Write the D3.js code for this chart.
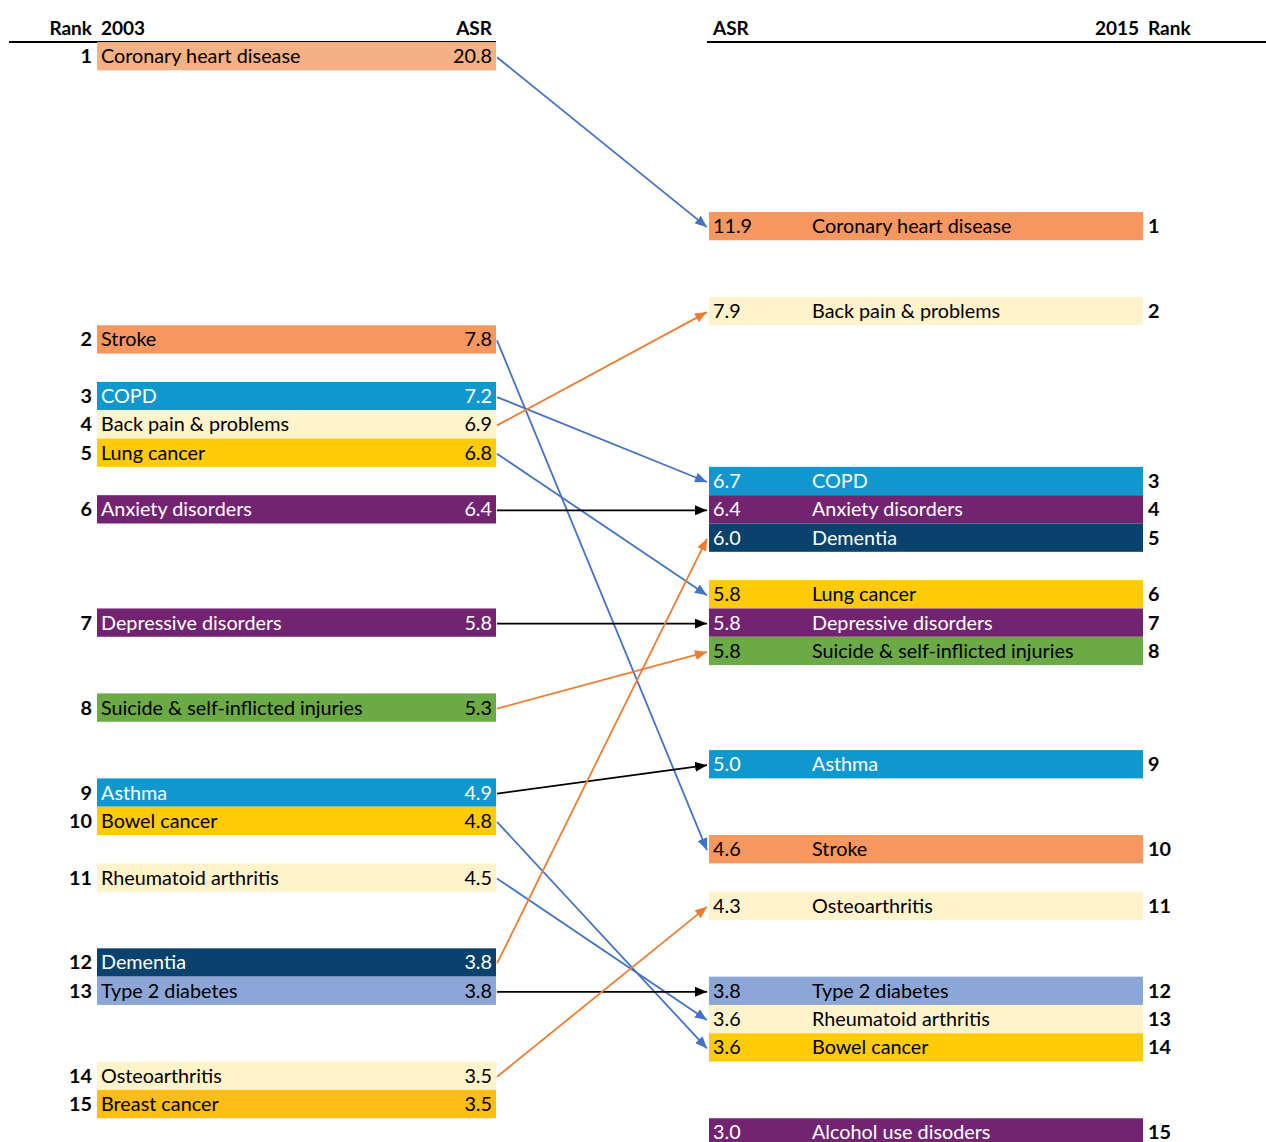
<!DOCTYPE html>
<html>
<head>
<meta charset="utf-8">
<script src="https://cdn.jsdelivr.net/npm/d3@7"></script>
<style>
  body { margin: 0; background: #fff; }
  svg { font-family: Lato, 'Open Sans', sans-serif; }
</style>
</head>
<body>
<svg id="chart" width="1266" height="1142"></svg>
<script>
// 2003 ranking
const causes2003 = ['Coronary heart disease', 'Stroke', 'COPD', 'Back pain & problems', 'Lung cancer',
  'Anxiety disorders', 'Depressive disorders', 'Suicide & self-inflicted injuries', 'Asthma', 'Bowel cancer',
  'Rheumatoid arthritis', 'Dementia', 'Type 2 diabetes', 'Osteoarthritis', 'Breast cancer'];
const asr2003 = [20.8, 7.8, 7.2, 6.9, 6.8, 6.4, 5.8, 5.3, 4.9, 4.8, 4.5, 3.8, 3.8, 3.5, 3.5];
const group2003 = ['Cardiovascular light', 'Cardiovascular', 'Respiratory', 'Musculoskeletal', 'Cancer',
  'Mental', 'Mental', 'Injuries', 'Respiratory', 'Cancer',
  'Musculoskeletal', 'Neurological', 'Endocrine', 'Musculoskeletal', 'Breast cancer'];

// 2015 ranking
const causes2015 = ['Coronary heart disease', 'Back pain & problems', 'COPD', 'Anxiety disorders', 'Dementia',
  'Lung cancer', 'Depressive disorders', 'Suicide & self-inflicted injuries', 'Asthma', 'Stroke',
  'Osteoarthritis', 'Type 2 diabetes', 'Rheumatoid arthritis', 'Bowel cancer', 'Alcohol use disoders'];
const asr2015 = [11.9, 7.9, 6.7, 6.4, 6.0, 5.8, 5.8, 5.8, 5.0, 4.6, 4.3, 3.8, 3.6, 3.6, 3.0];
const group2015 = ['Cardiovascular', 'Musculoskeletal', 'Respiratory', 'Mental', 'Neurological',
  'Cancer', 'Mental', 'Injuries', 'Respiratory', 'Cardiovascular',
  'Musculoskeletal', 'Endocrine', 'Musculoskeletal', 'Cancer', 'Mental'];

const groups = ['Cardiovascular light', 'Cardiovascular', 'Respiratory', 'Musculoskeletal', 'Cancer',
  'Breast cancer', 'Mental', 'Injuries', 'Neurological', 'Endocrine'];
const groupColors = ['#F4B183', '#F6975F', '#1097CE', '#FFF3CC', '#FFCB08',
  '#FCBD14', '#722471', '#6CAA45', '#08426D', '#8CA7D7'];
const darkGroups = ['Respiratory', 'Mental', 'Neurological'];

const svg = d3.select('#chart');
const color = d3.scaleOrdinal().domain(groups).range(groupColors);

// the ASR axis of the sheet is not linear: each value sits on a row of the grid
const asrKnots = [20.8, 11.9, 7.9, 7.8, 7.2, 6.9, 6.8, 6.7, 6.4, 6.0, 5.8, 5.3, 5.0, 4.9, 4.8, 4.6, 4.5, 4.3, 3.8, 3.6, 3.5, 3.0];
const rowKnots = [0, 6, 9, 10, 12, 13, 14, 15, 16, 17, 20, 23, 25, 26, 27, 28, 29, 30, 33, 35, 37, 38];
const asrToRow = d3.scaleLinear().domain(asrKnots).range(rowKnots);
const rowToY = d3.scaleLinear().domain([0, 38]).range([56.2, 1132.4]);
const rowH = 28.3;

const buildColumn = (names, values, grp) => {
  const items = names.map((n, i) => ({ name: n, asr: values[i], group: grp[i], rank: i + 1 }));
  const ties = d3.group(items, d => d.asr);
  items.forEach((d) => {
    const same = ties.get(d.asr);
    const off = same.indexOf(d) - Math.floor(same.length / 2);
    d.y = rowToY(asrToRow(d.asr) + off);
  });
  return items;
};

const left = buildColumn(causes2003, asr2003, group2003);
const right = buildColumn(causes2015, asr2015, group2015);

const L = { x0: 97, x1: 496 };
const R = { x0: 709, x1: 1143 };
const textFill = d => darkGroups.includes(d.group) ? '#fff' : '#000';
const fs = 19.8;

// headers
const head = svg.append('g').attr('font-weight', 'bold').attr('font-size', 19);
head.append('text').attr('x', 92).attr('y', 35).attr('text-anchor', 'end').text('Rank');
head.append('text').attr('x', 101).attr('y', 35).text('2003');
head.append('text').attr('x', 492).attr('y', 35).attr('text-anchor', 'end').text('ASR');
head.append('text').attr('x', 713).attr('y', 35).text('ASR');
head.append('text').attr('x', 1139).attr('y', 35).attr('text-anchor', 'end').text('2015');
head.append('text').attr('x', 1148).attr('y', 35).text('Rank');
svg.append('line').attr('x1', 9).attr('x2', 496).attr('y1', 42).attr('y2', 42).attr('stroke', '#000').attr('stroke-width', 2);
svg.append('line').attr('x1', 707).attr('x2', 1266).attr('y1', 42).attr('y2', 42).attr('stroke', '#000').attr('stroke-width', 2);

// left column
const lg = svg.append('g').attr('font-size', fs);
const lrow = lg.selectAll('.lrow').data(left).enter().append('g').attr('class', 'lrow');
lrow.append('rect')
  .attr('x', L.x0).attr('width', L.x1 - L.x0)
  .attr('y', d => d.y - rowH / 2).attr('height', rowH)
  .attr('fill', d => color(d.group));
lrow.append('text').attr('x', 92).attr('y', d => d.y + 7)
  .attr('text-anchor', 'end').attr('font-weight', 'bold').text(d => d.rank);
lrow.append('text').attr('x', 101).attr('y', d => d.y + 7).attr('fill', textFill).text(d => d.name);
lrow.append('text').attr('x', 492).attr('y', d => d.y + 7).attr('text-anchor', 'end')
  .attr('fill', textFill).text(d => d.asr.toFixed(1));

// right column
const rg = svg.append('g').attr('font-size', fs);
const rrow = rg.selectAll('.rrow').data(right).enter().append('g').attr('class', 'rrow');
rrow.append('rect')
  .attr('x', R.x0).attr('width', R.x1 - R.x0)
  .attr('y', d => d.y - rowH / 2).attr('height', rowH)
  .attr('fill', d => color(d.group));
rrow.append('text').attr('x', 713).attr('y', d => d.y + 7).attr('fill', textFill).text(d => d.asr.toFixed(1));
rrow.append('text').attr('x', 812).attr('y', d => d.y + 7).attr('fill', textFill).text(d => d.name);
rrow.append('text').attr('x', 1148).attr('y', d => d.y + 7).attr('font-weight', 'bold').text(d => d.rank);

// arrows: orange = ASR up, blue = ASR down, black = about the same
const arrowColors = { up: '#ED7D31', down: '#4472C4', flat: '#000000' };
const defs = svg.append('defs');
Object.keys(arrowColors).forEach((k) => {
  defs.append('marker')
    .attr('id', 'arrow-' + k)
    .attr('markerUnits', 'userSpaceOnUse')
    .attr('viewBox', '0 0 12 10')
    .attr('refX', 12).attr('refY', 5)
    .attr('markerWidth', 12).attr('markerHeight', 10)
    .attr('orient', 'auto')
    .append('path').attr('d', 'M0,0 L12,5 L0,10 Z').attr('fill', arrowColors[k]);
});

const links = left.map((d) => {
  const target = right.find(r => r.name === d.name);
  if (!target) return null;
  const diff = target.asr - d.asr;
  const trend = diff > 0.15 ? 'up' : (diff < -0.15 ? 'down' : 'flat');
  return { source: d, target: target, trend: trend };
}).filter(d => d);

svg.append('g').selectAll('line').data(links).enter().append('line')
  .attr('x1', L.x1 + 1).attr('y1', d => d.source.y + 1)
  .attr('x2', R.x0 - 2).attr('y2', d => d.target.y + 1)
  .attr('stroke', d => arrowColors[d.trend])
  .attr('stroke-width', 1.8)
  .attr('marker-end', d => 'url(#arrow-' + d.trend + ')');
</script>
</body>
</html>
